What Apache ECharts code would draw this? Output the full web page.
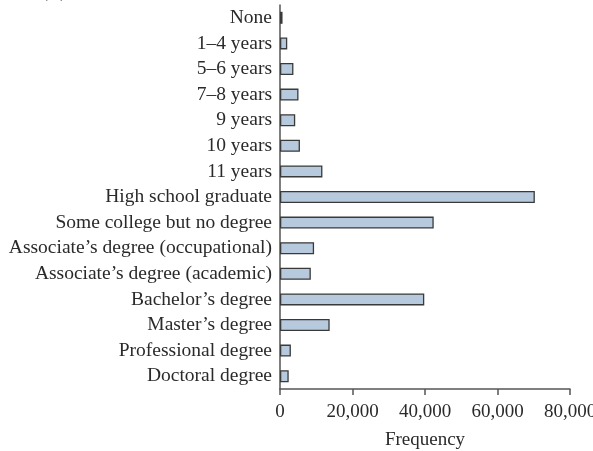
<!DOCTYPE html>
<html>
<head>
<meta charset="utf-8">
<script src="https://cdn.jsdelivr.net/npm/echarts@6/dist/echarts.min.js"></script>
<style>
  html, body { margin: 0; padding: 0; background: #fff; }
  #chart { width: 593px; height: 451px; }
</style>
</head>
<body>
<div id="chart"></div>
<script>
// Educational attainment frequency chart (horizontal bars).
const FONT = "'Liberation Serif', 'DejaVu Serif', serif";

const categories = [
  'None', '1\u20134 years', '5\u20136 years', '7\u20138 years', '9 years', '10 years', '11 years',
  'High school graduate', 'Some college but no degree',
  'Associate\u2019s degree (occupational)', 'Associate\u2019s degree (academic)',
  'Bachelor\u2019s degree', 'Master\u2019s degree', 'Professional degree', 'Doctoral degree',
];
const frequency = [
  700, 2000, 3700, 5100, 4200, 5500, 11700,
  70300, 42400, 9400, 8500, 39800, 13700, 3000, 2400,
];
const xTicks = { min: 0, max: 80000, step: 20000 };

const chart = echarts.init(document.getElementById('chart'));

chart.setOption({
  animation: false,
  backgroundColor: '#ffffff',
  textStyle: { fontFamily: FONT },
  // outerBoundsMode none: let the last tick label run off the edge like the original
  grid: { left: 280, right: 23, top: 5, bottom: 62, containLabel: false, outerBoundsMode: 'none' },
  graphic: [{
    type: 'text', left: 40, top: -22,
    style: { text: '(a)', font: 'bold 24px ' + FONT, fill: '#222' },
  }],
  xAxis: {
    type: 'value',
    min: xTicks.min, max: xTicks.max, interval: xTicks.step,
    name: 'Frequency', nameLocation: 'middle', nameGap: 42,
    nameTextStyle: { fontSize: 19, color: '#2a2a2a', fontFamily: FONT },
    axisLine: { show: true, lineStyle: { color: '#555', width: 1.5 } },
    axisTick: { show: true, length: 6, lineStyle: { color: '#555', width: 1.5 } },
    axisLabel: {
      fontSize: 19, color: '#2a2a2a', fontFamily: FONT, margin: 14,
      hideOverlap: false,
      formatter: (v) => v.toLocaleString('en-US'),
    },
    splitLine: { show: false },
  },
  yAxis: {
    type: 'category', data: categories, inverse: true,
    axisLine: { show: true, lineStyle: { color: '#555', width: 1.5 } },
    axisTick: { show: false },
    axisLabel: { interval: 0, fontSize: 19.5, color: '#2a2a2a', fontFamily: FONT, margin: 8 },
  },
  series: [{
    type: 'bar', data: frequency, barWidth: 12,
    itemStyle: { color: '#b7c9dc', borderColor: '#3a3a3a', borderWidth: 1.3 },
  }],
});
</script>
</body>
</html>
